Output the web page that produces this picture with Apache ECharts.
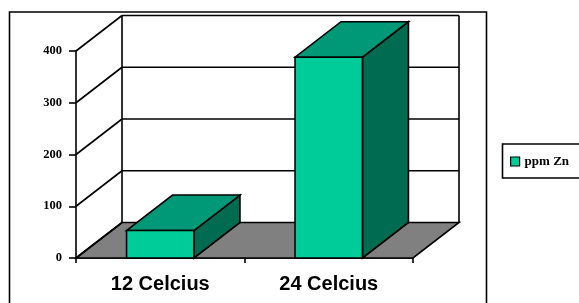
<!DOCTYPE html>
<html>
<head>
<meta charset="utf-8">
<script src="https://cdn.jsdelivr.net/npm/echarts@6/dist/echarts.min.js"></script>
<style>
  html, body { margin: 0; padding: 0; background: #fff; overflow: hidden; }
  #chart { width: 579px; height: 303px; }
</style>
</head>
<body>
<div id="chart"></div>
<script>
  const categories = ['12 Celcius', '24 Celcius']
  const zinc = [53, 388]
  const yTicks = [0, 100, 200, 300, 400]

  // depth of the 3d box (pixels)
  const DX = 46
  const DY = -35.5
  const line = { stroke: '#000', lineWidth: 1.6 }

  const chart = echarts.init(document.getElementById('chart'))

  function renderWalls(params, api) {
    const cs = params.coordSys
    const x0 = cs.x, x1 = cs.x + cs.width
    const y0 = api.coord([0, 0])[1]
    const yTop = api.coord([0, yTicks[yTicks.length - 1]])[1]
    const children = []
    // floor
    children.push({
      type: 'polygon',
      shape: { points: [[x0, y0], [x1, y0], [x1 + DX, y0 + DY], [x0 + DX, y0 + DY]] },
      style: { fill: '#808080', stroke: '#000', lineWidth: 1.6 }
    })
    yTicks.forEach(v => {
      const y = api.coord([0, v])[1]
      children.push({ type: 'line', shape: { x1: x0, y1: y, x2: x0 + DX, y2: y + DY }, style: line })
      if (v > 0) {
        children.push({ type: 'line', shape: { x1: x0 + DX, y1: y + DY, x2: x1 + DX, y2: y + DY }, style: line })
      }
    })
    children.push({ type: 'line', shape: { x1: x0 + DX, y1: yTop + DY, x2: x0 + DX, y2: y0 + DY }, style: line })
    children.push({ type: 'line', shape: { x1: x1 + DX, y1: yTop + DY, x2: x1 + DX, y2: y0 + DY }, style: line })
    return { type: 'group', children }
  }

  function renderBar(params, api) {
    const top = api.coord([api.value(0), api.value(1)])
    const base = api.coord([api.value(0), 0])
    const w = api.size([1, 0])[0] * 0.4
    const x = top[0] - w / 2
    const y = top[1]
    const yb = base[1]
    return {
      type: 'group',
      children: [
        {
          type: 'polygon',
          shape: { points: [[x + w, y], [x + w + DX, y + DY], [x + w + DX, yb + DY], [x + w, yb]] },
          style: { fill: '#006B50', stroke: '#000', lineWidth: 1.6 }
        },
        {
          type: 'polygon',
          shape: { points: [[x, y], [x + w, y], [x + w + DX, y + DY], [x + DX, y + DY]] },
          style: { fill: '#009977', stroke: '#000', lineWidth: 1.6 }
        },
        {
          type: 'rect',
          shape: { x: x, y: y, width: w, height: yb - y },
          style: { fill: '#00CC99', stroke: '#000', lineWidth: 1.6 }
        }
      ]
    }
  }

  chart.setOption({
    animation: false,
    backgroundColor: '#fff',
    graphic: [
      {
        type: 'rect',
        shape: { x: 9.5, y: 12, width: 477, height: 300 },
        style: { fill: 'none', stroke: '#000', lineWidth: 1.6 },
        z: 100
      },
      // legend frame runs off the right edge
      {
        type: 'polyline',
        shape: { points: [[600, 144], [502.5, 144], [502.5, 178], [600, 178]] },
        style: { fill: 'none', stroke: '#000', lineWidth: 1.6 },
        z: 100
      }
    ],
    legend: {
      left: 502,
      top: 144,
      orient: 'vertical',
      padding: [11, 10, 11, 8],
      itemWidth: 9,
      itemHeight: 9,
      icon: 'rect',
      itemStyle: { borderColor: '#000', borderWidth: 1.2 },
      textStyle: { fontFamily: 'Liberation Serif', fontWeight: 'bold', fontSize: 13, color: '#000', lineHeight: 12 },
      data: ['ppm Zn']
    },
    grid: { left: 76, right: 166, top: 51, bottom: 45 },
    xAxis: {
      type: 'category',
      data: categories,
      axisLine: { lineStyle: { color: '#000', width: 1.6 } },
      axisTick: { show: true, length: 5, lineStyle: { color: '#000', width: 1.6 } },
      axisLabel: { fontFamily: 'Liberation Sans', fontWeight: 'bold', fontSize: 20, color: '#000', margin: 16 },
      splitLine: { show: false }
    },
    yAxis: {
      type: 'value',
      min: 0,
      max: 400,
      interval: 100,
      axisLine: { show: true, lineStyle: { color: '#000', width: 1.6 } },
      axisTick: { show: true, length: 7, lineStyle: { color: '#000', width: 1.6 } },
      axisLabel: { fontFamily: 'Liberation Serif', fontWeight: 'bold', fontSize: 12.5, color: '#000', margin: 14 },
      splitLine: { show: false }
    },
    series: [
      {
        type: 'custom',
        name: 'walls',
        renderItem: renderWalls,
        data: [[0, 0]],
        silent: true,
        z: 1
      },
      {
        type: 'custom',
        name: 'ppm Zn',
        renderItem: renderBar,
        itemStyle: { color: '#00CC99' },
        data: zinc.map((v, i) => [i, v]),
        z: 3
      }
    ]
  })
</script>
</body>
</html>
